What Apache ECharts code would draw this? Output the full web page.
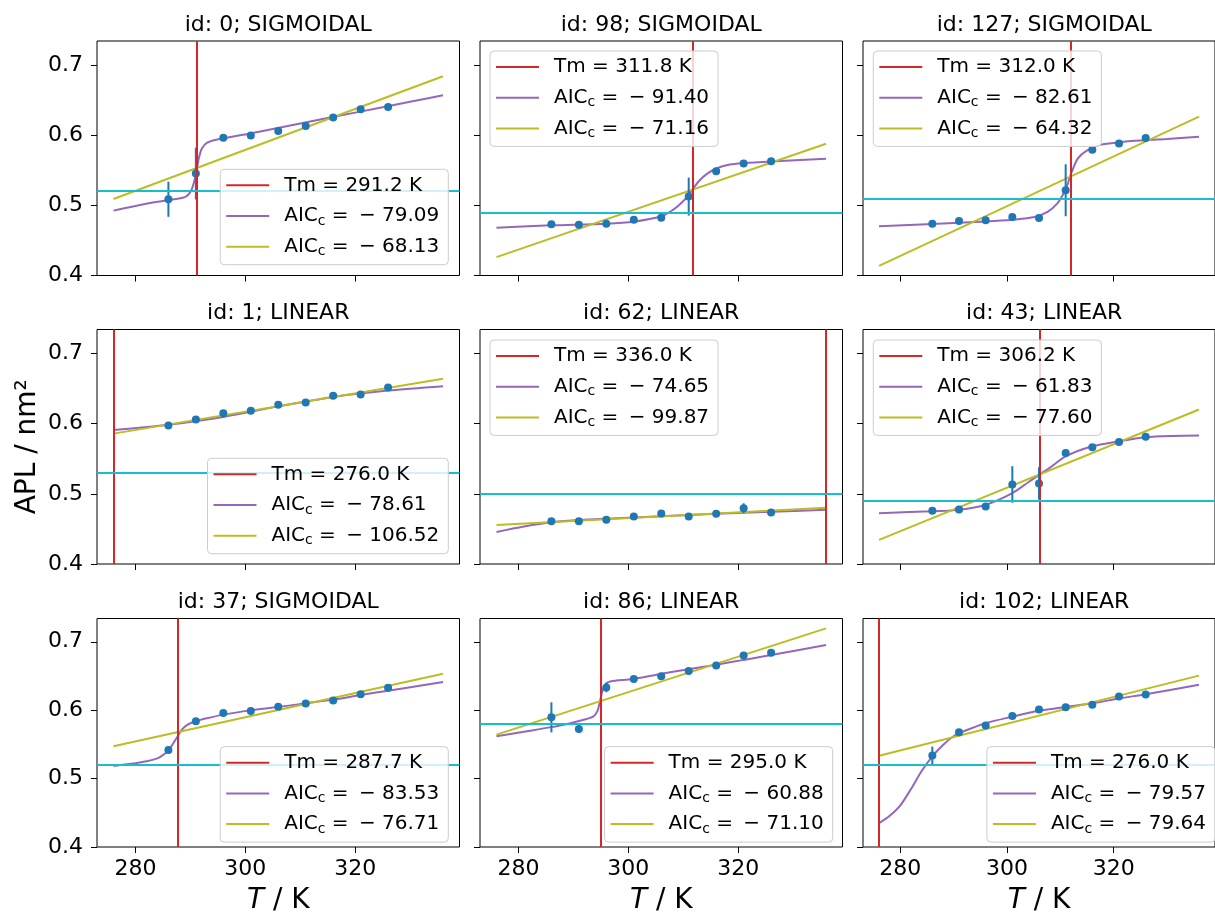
<!DOCTYPE html>
<html><head><meta charset="utf-8">
<script src="https://cdn.jsdelivr.net/npm/echarts@6/dist/echarts.min.js"></script>
<style>html,body{margin:0;padding:0;background:#fff}#c{width:1215px;height:916px}</style>
</head><body><div id="c"></div>
<script>
// ---------------- data ----------------
const panelIds = [0, 98, 127, 1, 62, 43, 37, 86, 102];
const panelModels = ['SIGMOIDAL','SIGMOIDAL','SIGMOIDAL','LINEAR','LINEAR','LINEAR','SIGMOIDAL','LINEAR','LINEAR'];
const tmValues = [291.2, 311.8, 312.0, 276.0, 336.0, 306.2, 287.7, 295.0, 276.0];
const aicSigmoid = [-79.09, -91.40, -82.61, -78.61, -74.65, -61.83, -83.53, -60.88, -79.57];
const aicLinear = [-68.13, -71.16, -64.32, -106.52, -99.87, -77.60, -76.71, -71.10, -79.64];
const refApl = [0.5214, 0.4918, 0.5052, 0.5338, 0.4958, 0.4935, 0.518, 0.5848, 0.5205];
const temperatures = [286, 291, 296, 301, 306, 311, 316, 321, 326];
const aplMean = [
  [0.5086, 0.5452, 0.5962, 0.5995, 0.6057, 0.6129, 0.6252, 0.6367, 0.6400],
  [0.4729, 0.4724, 0.4738, 0.4795, 0.4824, 0.5124, 0.5486, 0.5595, 0.5629],
  [0.4738, 0.4776, 0.4786, 0.4833, 0.4819, 0.5214, 0.5790, 0.5881, 0.5957],
  [0.5971, 0.6057, 0.6148, 0.6181, 0.6267, 0.6300, 0.6395, 0.6414, 0.6514],
  [0.4610, 0.4610, 0.4629, 0.4676, 0.4719, 0.4676, 0.4714, 0.4795, 0.4733],
  [0.4757, 0.4776, 0.4819, 0.5133, 0.5148, 0.5581, 0.5662, 0.5738, 0.5814],
  [0.5419, 0.5839, 0.5959, 0.5988, 0.6050, 0.6097, 0.6140, 0.6231, 0.6327],
  [0.5895, 0.5725, 0.6333, 0.6457, 0.6495, 0.6571, 0.6652, 0.6800, 0.6838],
  [0.5338, 0.5676, 0.5776, 0.5914, 0.6010, 0.6043, 0.6081, 0.6200, 0.6229]
];
const aplErr = [
  [0.025, 0.037, 0.003, 0.003, 0.003, 0.003, 0.003, 0.003, 0.003],
  [0.003, 0.003, 0.003, 0.003, 0.003, 0.027, 0.003, 0.003, 0.003],
  [0.003, 0.003, 0.003, 0.003, 0.003, 0.037, 0.003, 0.003, 0.003],
  [0.003, 0.003, 0.003, 0.003, 0.003, 0.003, 0.003, 0.003, 0.003],
  [0.003, 0.003, 0.003, 0.003, 0.003, 0.003, 0.003, 0.007, 0.003],
  [0.003, 0.003, 0.003, 0.026, 0.023, 0.003, 0.003, 0.003, 0.003],
  [0.003, 0.003, 0.003, 0.003, 0.003, 0.003, 0.003, 0.003, 0.003],
  [0.022, 0.006, 0.007, 0.003, 0.003, 0.003, 0.003, 0.003, 0.003],
  [0.013, 0.003, 0.003, 0.003, 0.003, 0.003, 0.003, 0.003, 0.003]
];
const sigmoidT = [
  [276, 282.7, 288.8, 289.7, 290.3, 290.9, 291.2, 291.6, 292.1, 293, 294.9, 300.9, 310, 320, 330, 336],
  [276, 286, 296, 301, 306, 308.2, 309.4, 311, 311.8, 313, 314.2, 316, 318.5, 320.9, 326, 336],
  [276, 286, 296, 301, 305.2, 307.6, 309.4, 310.6, 311.2, 311.8, 312.4, 313.3, 314.8, 317.3, 320.9, 323.3, 330, 336],
  [276, 286, 296, 306, 316, 326, 336],
  [276, 281, 286, 291, 296, 306, 316, 326, 336],
  [276, 286, 291, 296, 301, 304, 306.2, 308, 311, 316, 321, 326, 331, 336],
  [276, 280, 282, 284, 285, 286, 287, 287.7, 288.5, 289.5, 291, 293, 296, 301, 306, 311, 316, 321, 326, 336],
  [276, 281, 286, 289.4, 292.4, 293.6, 294.4, 294.85, 295.2, 295.5, 296, 296.7, 300.9, 307.6, 316, 321, 326, 336],
  [276, 278, 280, 282, 284, 286, 288, 290, 292, 296, 301, 306, 311, 316, 321, 326, 336]
];
const sigmoidApl = [
  [0.4924, 0.5033, 0.511, 0.5157, 0.5238, 0.5405, 0.5524, 0.569, 0.581, 0.589, 0.5938, 0.6024, 0.6165, 0.632, 0.6475, 0.6567],
  [0.4681, 0.4714, 0.4738, 0.4767, 0.4843, 0.4938, 0.5014, 0.514, 0.5238, 0.5357, 0.544, 0.5524, 0.558, 0.56, 0.5624, 0.5662],
  [0.470, 0.4735, 0.477, 0.4795, 0.4833, 0.4905, 0.5024, 0.5167, 0.5262, 0.5405, 0.5524, 0.5667, 0.5771, 0.5857, 0.5895, 0.5914, 0.5945, 0.5976],
  [0.591, 0.5985, 0.6095, 0.6245, 0.638, 0.647, 0.6533],
  [0.4457, 0.4535, 0.4595, 0.4625, 0.4645, 0.468, 0.4715, 0.4745, 0.4771],
  [0.4724, 0.4752, 0.4771, 0.4843, 0.501, 0.5165, 0.528, 0.537, 0.5533, 0.5676, 0.5748, 0.5805, 0.5824, 0.5829],
  [0.5185, 0.5223, 0.5252, 0.5295, 0.5345, 0.541, 0.553, 0.562, 0.572, 0.579, 0.5839, 0.5882, 0.5935, 0.5997, 0.6045, 0.6102, 0.6155, 0.6222, 0.6284, 0.6413],
  [0.5619, 0.5685, 0.5752, 0.581, 0.5871, 0.5905, 0.599, 0.6134, 0.6253, 0.6334, 0.639, 0.642, 0.6457, 0.6553, 0.6665, 0.6735, 0.6805, 0.6952],
  [0.4348, 0.4457, 0.461, 0.4848, 0.511, 0.5324, 0.549, 0.5619, 0.5695, 0.581, 0.5905, 0.599, 0.6048, 0.61, 0.6171, 0.6233, 0.6371]
];
const linearT = [276, 336];
const linearApl = [
  [0.509, 0.6838], [0.4262, 0.5876], [0.4138, 0.6262],
  [0.5857, 0.6638], [0.4557, 0.4800], [0.4343, 0.6200],
  [0.5472, 0.6532], [0.5643, 0.7195], [0.5333, 0.6505]
];
const xTicks = [280, 300, 320];
const yTicks = [0.4, 0.5, 0.6, 0.7];

// ---------------- layout / style ----------------
const FONT = 'DejaVu Sans';
const colLeft = [97, 480, 863];
const rowTop = [41, 329.5, 618.5];
const PW = 362.5, PH = 234.5;
const XMIN = 273, XMAX = 339, YMIN = 0.4, YMAX = 0.734;
const C_BLUE = '#1f77b4', C_PURPLE = '#9467bd', C_OLIVE = '#bcbd22', C_RED = '#d62728', C_CYAN = '#17becf';
// legend placement: [side, offset-x, top]
const legendPos = [
  ['right', 766.7, 169.3], ['left', 490, 51], ['left', 873.3, 51],
  ['right', 766.7, 458.3], ['left', 490, 340], ['left', 873.3, 340],
  ['right', 766.7, 746.7], ['right', 382.3, 746.7], ['right', 0, 746.7]
];

const fmtTm = v => 'Tm = ' + v.toFixed(1) + ' K';
const fmtAic = v => 'AICc = \u2212' + Math.abs(v).toFixed(2);

function legendFormatter(name) {
  if (name.indexOf('AICc') === 0) {
    const val = name.split('\u2212')[1];
    return '{g| }{a|AIC}{s|c}{a| = \u2009\u2212 ' + val + '}';
  }
  return '{g| }{a|' + name + '}';
}

const grids = [], xAxes = [], yAxes = [], titles = [], legends = [], series = [];

for (let i = 0; i < 9; i++) {
  const r = Math.floor(i / 3), c = i % 3;
  grids.push({left: colLeft[c], top: rowTop[r], width: PW, height: PH,
    show: true, borderColor: '#000', borderWidth: 1, backgroundColor: 'transparent', containLabel: false});
  const xa = {
    gridIndex: i, type: 'value', min: XMIN, max: XMAX,
    axisLine: {show: false},
    axisTick: {show: true, length: 6, customValues: xTicks, lineStyle: {color: '#000', width: 1}},
    axisLabel: {show: r === 2, customValues: xTicks, fontSize: 22, color: '#000', margin: 11, fontFamily: FONT},
    splitLine: {show: false}
  };
  if (r === 2) {
    xa.name = '{i|T} / K';
    xa.nameLocation = 'middle';
    xa.nameGap = 40;
    xa.nameTextStyle = {fontSize: 28, color: '#000', fontFamily: FONT,
      rich: {i: {fontStyle: 'italic', fontSize: 28, color: '#000', fontFamily: FONT}}};
  }
  xAxes.push(xa);
  const ya = {
    gridIndex: i, type: 'value', min: YMIN, max: YMAX,
    axisLine: {show: false},
    axisTick: {show: true, length: 6, customValues: yTicks, lineStyle: {color: '#000', width: 1}},
    axisLabel: {show: c === 0, customValues: yTicks, fontSize: 22, color: '#000', margin: 14, fontFamily: FONT,
      formatter: v => v.toFixed(1)},
    splitLine: {show: false}
  };
  if (r === 1 && c === 0) {
    ya.name = 'APL / nm\u00b2';
    ya.nameLocation = 'middle';
    ya.nameGap = 55;
    ya.nameTextStyle = {fontSize: 28, color: '#000', fontFamily: FONT};
  }
  yAxes.push(ya);

  titles.push({
    text: 'id: ' + panelIds[i] + '; ' + panelModels[i],
    left: colLeft[c] + PW / 2, top: rowTop[r] - 27, textAlign: 'center', padding: 0,
    textStyle: {fontSize: 22, fontWeight: 'normal', color: '#000', fontFamily: FONT}
  });

  const tmName = fmtTm(tmValues[i]);
  const sigName = fmtAic(aicSigmoid[i]);
  const linName = fmtAic(aicLinear[i]);

  const lp = legendPos[i];
  const lg = {
    orient: 'vertical', top: lp[2], data: [tmName, sigName, linName],
    icon: 'rect', itemWidth: 43, itemHeight: 2, itemGap: 6.7,
    padding: [4, 9, 6, 6], backgroundColor: 'rgba(255,255,255,0.8)',
    borderColor: '#cccccc', borderWidth: 1, borderRadius: 4, selectedMode: false, z: 10,
    formatter: legendFormatter,
    textStyle: {fontSize: 20, color: '#000', fontFamily: FONT, lineHeight: 24,
      rich: {
        g: {width: 10, fontSize: 20, lineHeight: 24},
        a: {fontSize: 20, lineHeight: 24, color: '#000', fontFamily: FONT},
        s: {fontSize: 14, lineHeight: 13, verticalAlign: 'bottom', color: '#000', fontFamily: FONT}
      }}
  };
  lg[lp[0]] = lp[1];
  legends.push(lg);

  // Tm vertical line + reference horizontal line
  series.push({
    name: tmName, type: 'line', xAxisIndex: i, yAxisIndex: i, data: [], color: C_RED,
    lineStyle: {color: C_RED, width: 2}, z: 2,
    markLine: {silent: true, symbol: ['none', 'none'], label: {show: false}, animation: false,
      emphasis: {disabled: true},
      data: [
        {xAxis: tmValues[i], lineStyle: {color: C_RED, width: 2, type: 'solid'}},
        {yAxis: refApl[i], lineStyle: {color: C_CYAN, width: 2, type: 'solid'}}
      ]}
  });
  // sigmoid fit
  series.push({
    name: sigName, type: 'line', xAxisIndex: i, yAxisIndex: i, color: C_PURPLE,
    data: sigmoidT[i].map((t, k) => [t, sigmoidApl[i][k]]),
    smooth: 0.3, showSymbol: false, symbol: 'none',
    lineStyle: {color: C_PURPLE, width: 2}, z: 2
  });
  // linear fit
  series.push({
    name: linName, type: 'line', xAxisIndex: i, yAxisIndex: i, color: C_OLIVE,
    data: linearT.map((t, k) => [t, linearApl[i][k]]),
    showSymbol: false, symbol: 'none', lineStyle: {color: C_OLIVE, width: 2}, z: 2
  });
  // error bars
  series.push({
    type: 'custom', xAxisIndex: i, yAxisIndex: i, z: 3,
    data: temperatures.map((t, k) => [t, aplMean[i][k] - aplErr[i][k], aplMean[i][k] + aplErr[i][k]]),
    encode: {x: 0, y: [1, 2]},
    renderItem: function (params, api) {
      const p1 = api.coord([api.value(0), api.value(1)]);
      const p2 = api.coord([api.value(0), api.value(2)]);
      return {type: 'line', shape: {x1: p1[0], y1: p1[1], x2: p2[0], y2: p2[1]},
        style: {stroke: C_BLUE, lineWidth: 2}};
    }
  });
  // data points
  series.push({
    type: 'scatter', xAxisIndex: i, yAxisIndex: i, z: 4,
    data: temperatures.map((t, k) => [t, aplMean[i][k]]),
    symbol: 'circle', symbolSize: 8, itemStyle: {color: C_BLUE, opacity: 1}
  });
}

const chart = echarts.init(document.getElementById('c'), null, {renderer: 'canvas'});
chart.setOption({
  animation: false,
  backgroundColor: '#ffffff',
  textStyle: {fontFamily: FONT},
  title: titles, grid: grids, xAxis: xAxes, yAxis: yAxes, legend: legends, series: series
});
</script></body></html>
